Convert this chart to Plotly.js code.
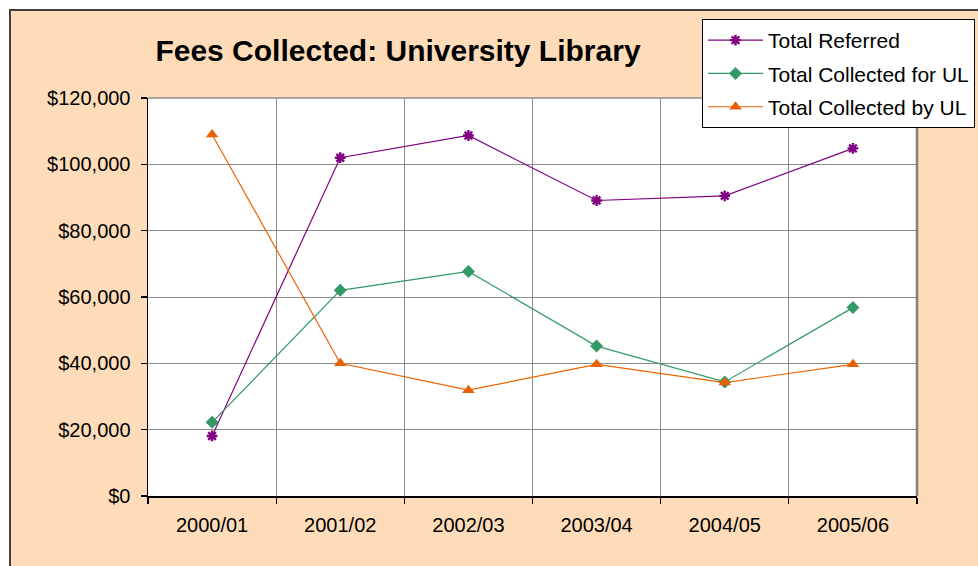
<!DOCTYPE html>
<html>
<head>
<meta charset="utf-8">
<script src="https://cdn.plot.ly/plotly-3.0.1.min.js"></script>
<style>
  html, body { margin: 0; padding: 0; background: #ffffff; }
  #wrap { position: relative; width: 978px; height: 566px; overflow: hidden; background: #ffffff; }
  #bg { position: absolute; left: 9px; top: 9px; width: 1000px; height: 600px;
        background: #FFDCB9; border-left: 2px solid #404040; border-top: 2px solid #404040; }
  #chart { position: absolute; left: 0; top: 0; width: 978px; height: 566px; }
</style>
</head>
<body>
<div id="wrap">
  <div id="bg"></div>
  <div id="chart"></div>
</div>
<script>
const categories = ["2000/01", "2001/02", "2002/03", "2003/04", "2004/05", "2005/06"];
const totalReferred = [18100, 102000, 108700, 89100, 90500, 104800];
const collectedForUL = [22200, 62000, 67700, 45200, 34400, 56800];
const collectedByUL = [109000, 40000, 31900, 39700, 34200, 39700];
const yTickVals = [0, 20000, 40000, 60000, 80000, 100000, 120000];

const fontFam = "Liberation Sans, Arial, sans-serif";

const traces = [
  {
    x: categories, y: totalReferred, name: "Total Referred", type: "scatter", mode: "lines+markers",
    legendgroup: "g1",
    line: { color: "#800080", width: 1.2 },
    marker: { symbol: "asterisk-open", size: 9, color: "#800080", line: { color: "#800080", width: 2.4 } }
  },
  {
    x: categories, y: collectedForUL, name: "Total Collected for UL", type: "scatter", mode: "lines+markers",
    legendgroup: "g2",
    line: { color: "#339966", width: 1.2 },
    marker: { symbol: "diamond", size: 10, color: "#339966" }
  },
  {
    x: categories, y: collectedByUL, name: "Total Collected by UL", type: "scatter", mode: "lines+markers",
    legendgroup: "g3",
    line: { color: "#EE6200", width: 1.2 },
    marker: { symbol: "triangle-up", size: 11, color: "#E86000" }
  }
];

const layout = {
  width: 978, height: 566,
  margin: { l: 148, r: 61, t: 98, b: 70, pad: 0, autoexpand: false },
  paper_bgcolor: "rgba(0,0,0,0)",
  plot_bgcolor: "#ffffff",
  font: { family: fontFam, size: 20, color: "#000000" },
  title: {
    text: "<b>Fees Collected: University Library</b>",
    font: { family: fontFam, size: 30, color: "#000000" },
    xref: "paper", x: (398 - 148) / 769, xanchor: "center",
    yref: "container", y: 1 - 50 / 566, yanchor: "middle"
  },
  showlegend: true,
  legend: {
    x: (702 - 148) / 769, xanchor: "left",
    y: (496 - 19) / 398, yanchor: "top",
    bgcolor: "#ffffff", bordercolor: "#000000", borderwidth: 1,
    font: { family: fontFam, size: 21, color: "#000000" },
    traceorder: "grouped",
    tracegroupgap: 3,
    itemwidth: 55
  },
  xaxis: {
    type: "category",
    range: [-0.5, 5.5],
    tickson: "boundaries",
    showgrid: true, gridcolor: "#8c8c8c", gridwidth: 1,
    showline: true, linecolor: "#000000", linewidth: 1.5,
    ticks: "outside", ticklen: 6, tickcolor: "#000000", tickwidth: 1.2,
    ticklabelstandoff: 10,
    tickfont: { family: fontFam, size: 20, color: "#000000" },
    zeroline: false, fixedrange: true
  },
  yaxis: {
    range: [0, 120000],
    tickvals: yTickVals,
    tickformat: "$,.0f",
    showgrid: true, gridcolor: "#8c8c8c", gridwidth: 1,
    showline: true, linecolor: "#000000", linewidth: 1.5,
    ticks: "outside", ticklen: 6, tickcolor: "#000000", tickwidth: 1.2,
    ticklabelstandoff: 6,
    tickfont: { family: fontFam, size: 20, color: "#000000" },
    zeroline: false, fixedrange: true
  },
  shapes: [
    { type: "line", xref: "paper", yref: "paper", x0: 0, x1: 1, y0: 1, y1: 1, line: { color: "#8c8c8c", width: 1.5 }, layer: "above" },
    { type: "line", xref: "paper", yref: "paper", x0: 1, x1: 1, y0: 0, y1: 1, line: { color: "#808080", width: 2.5 }, layer: "above" }
  ]
};

Plotly.newPlot("chart", traces, layout, { displayModeBar: false, staticPlot: true });
</script>
</body>
</html>
